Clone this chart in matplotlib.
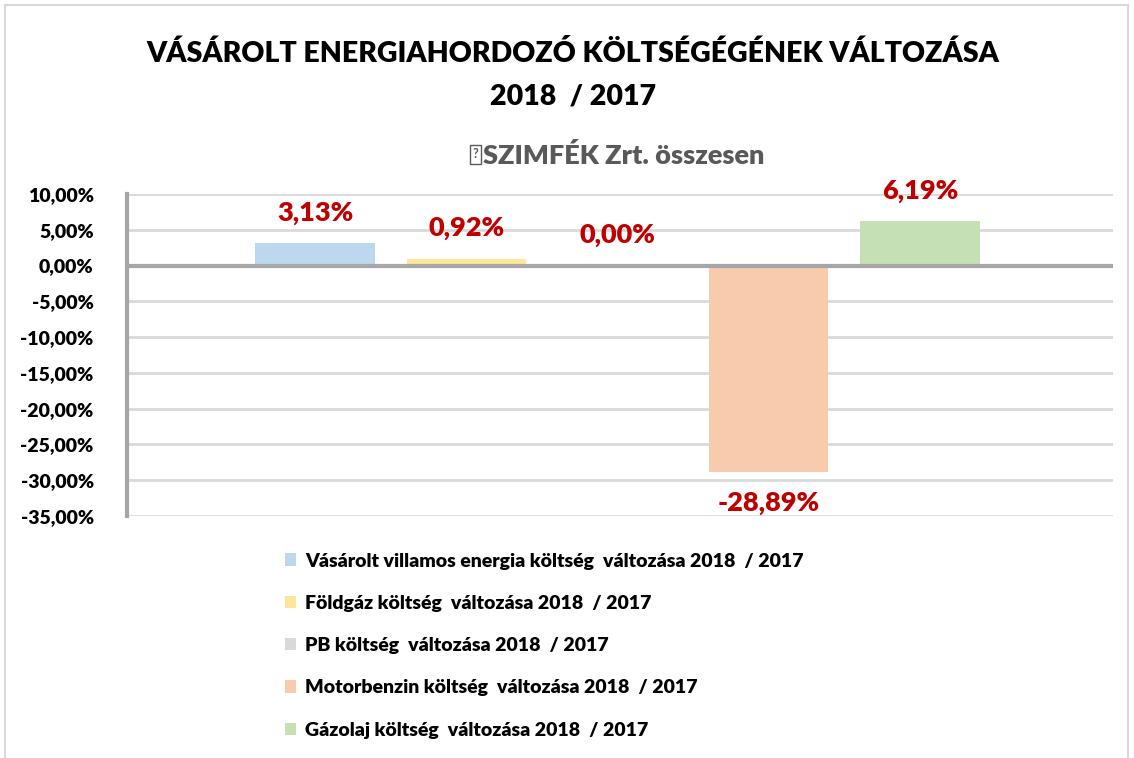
import numpy as np
import matplotlib.pyplot as plt
from matplotlib.ticker import FuncFormatter
from matplotlib.patches import Patch, Rectangle

# adatok (valtozas %-ban)
series = ["Vásárolt villamos energia költség  változása 2018  / 2017",
          "Földgáz költség  változása 2018  / 2017",
          "PB költség  változása 2018  / 2017",
          "Motorbenzin költség  változása 2018  / 2017",
          "Gázolaj költség  változása 2018  / 2017"]
values = [3.13, 0.92, 0.00, -28.89, 6.19]
colors = ["#bdd7ee", "#ffe699", "#d9d9d9", "#f8cbad", "#c5e0b4"]
yticks = np.arange(-35, 10.1, 5)
subtitle = "SZIMFÉK Zrt. összesen"

plt.rcParams['font.family'] = ['Lato', 'DejaVu Sans']

W, H = 1134, 758
fig = plt.figure(figsize=(W/100, H/100), dpi=100)
ax = fig.add_axes([127/W, 1-516/H, (1113-127)/W, (516-194)/H])

x = np.arange(len(values))
ax.bar(x, values, width=0.79, color=colors, zorder=3)

for xi, v in zip(x, values):
    off = 22 if v >= 0 else -22
    ax.annotate(f"{v:.2f}%".replace(".", ","), (xi, v), xytext=(0, off),
                textcoords="offset points", ha="center", va="center",
                fontsize=19.5, fontweight="heavy", color="#c00000", zorder=4)

ax.set_xlim(-1.243, 5.276)
ax.set_ylim(-35, 10)
ax.set_yticks(yticks)
ax.yaxis.set_major_formatter(FuncFormatter(lambda v, p: f"{v:.2f}%".replace(".", ",")))
ax.tick_params(axis="y", length=0, pad=24, labelsize=14)
for lab in ax.get_yticklabels():
    lab.set_fontweight("heavy")
ax.set_xticks([])
ax.grid(axis="y", color="#d9d9d9", linewidth=2, zorder=0)
for s in ["top", "right", "bottom"]:
    ax.spines[s].set_visible(False)
ax.spines["left"].set_color("#a6a6a6")
ax.spines["left"].set_linewidth(3)
ax.axhline(0, color="#a6a6a6", linewidth=3, zorder=4)

fig.text(573/W, 1-54/H, "VÁSÁROLT ENERGIAHORDOZÓ KÖLTSÉGÉGÉNEK VÁLTOZÁSA",
         ha="center", va="center", fontsize=20.5, fontweight="heavy")
fig.text(573/W, 1-97/H, "2018  / 2017", ha="center", va="center",
         fontsize=20.5, fontweight="heavy")
sub = fig.text(624/W, 1-155/H, subtitle, ha="center", va="center",
               fontsize=19.5, fontweight="heavy", color="#595959")

# glyph hianyzik az eredetiben is: kis doboz "?"-lel
fig.canvas.draw()
bb = sub.get_window_extent()
bx0 = bb.x0 - 13
fig.patches.append(Rectangle((bx0/W, (H-164)/H), 11/W, 19/H, transform=fig.transFigure,
                             fill=False, edgecolor="#595959", linewidth=1))
fig.text((bx0+5.5)/W, 1-154/H, "?", ha="center", va="center", fontsize=9,
         fontweight="bold", color="#595959")

handles = [Patch(facecolor=c) for c in colors]
leg = fig.legend(handles, series, loc="upper left", bbox_to_anchor=(267/W, 1-535/H),
                 frameon=False, prop={"weight": "heavy", "size": 14},
                 handlelength=0.6, handleheight=0.6, labelspacing=1.3, handletextpad=0.45)

# keret
fig.patches.append(Rectangle((5/W, -0.05), 1123/W, 1.05 - 5/H, transform=fig.transFigure,
                             fill=False, edgecolor="#d9d9d9", linewidth=1.5))

fig.savefig("out.png", dpi=100)
